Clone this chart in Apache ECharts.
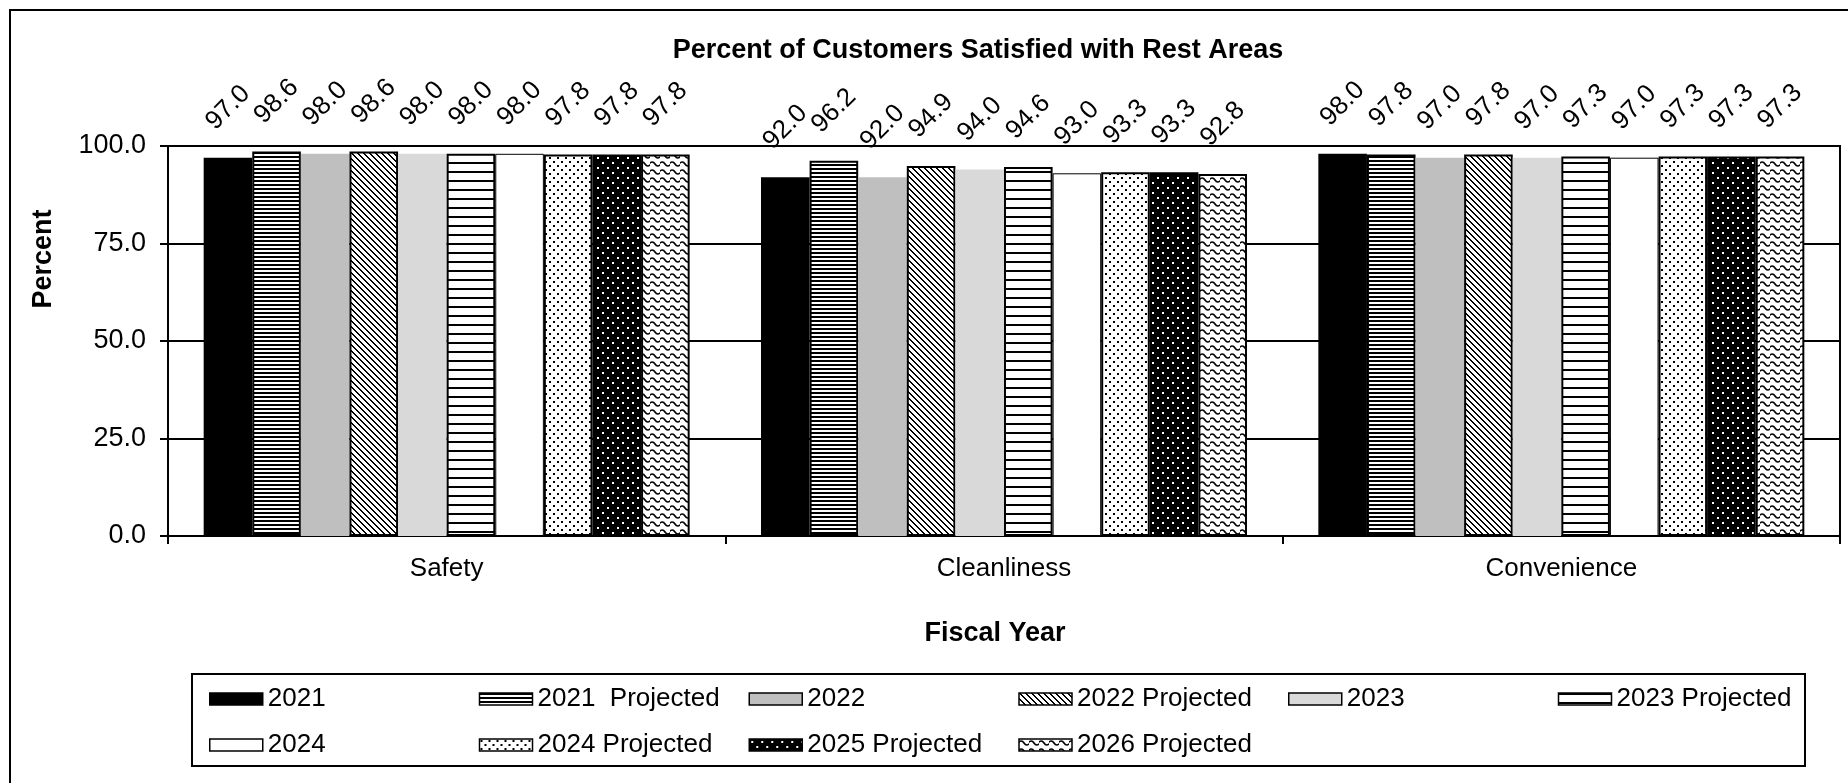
<!DOCTYPE html>
<html>
<head>
<meta charset="utf-8">
<script src="https://cdn.jsdelivr.net/npm/echarts@6/dist/echarts.min.js"></script>
<style>
html,body{margin:0;padding:0;background:#fff;}
#chart{width:1848px;height:783px;}
</style>
</head>
<body>
<div id="chart"></div>
<script>
// ---------------- data ----------------
const categories = ['Safety', 'Cleanliness', 'Convenience'];
const seriesNames = ['2021', '2021  Projected', '2022', '2022 Projected', '2023',
  '2023 Projected', '2024', '2024 Projected', '2025 Projected', '2026 Projected'];
const v2021  = [97.0, 92.0, 98.0];
const v2021P = [98.6, 96.2, 97.8];
const v2022  = [98.0, 92.0, 97.0];
const v2022P = [98.6, 94.9, 97.8];
const v2023  = [98.0, 94.0, 97.0];
const v2023P = [98.0, 94.6, 97.3];
const v2024  = [98.0, 93.0, 97.0];
const v2024P = [97.8, 93.3, 97.3];
const v2025P = [97.8, 93.3, 97.3];
const v2026P = [97.8, 92.8, 97.3];
const seriesValues = [v2021, v2021P, v2022, v2022P, v2023, v2023P, v2024, v2024P, v2025P, v2026P];
const yMin = 0, yMax = 100, yInterval = 25;
const titleText = 'Percent of Customers Satisfied with Rest Areas';
const xName = 'Fiscal Year';
const yName = 'Percent';

// ---------------- patterns ----------------
const FONT = '"Liberation Sans", Arial, sans-serif';
function pat(w, h, draw) {
  const c = document.createElement('canvas');
  c.width = w; c.height = h;
  const g = c.getContext('2d');
  draw(g, w, h);
  return { image: c, repeat: 'repeat' };
}
const pHDense = pat(4, 4, (g, w, h) => { g.fillStyle = '#fff'; g.fillRect(0, 0, w, h); g.fillStyle = '#000'; g.fillRect(0, 0, w, 2); });
const pDiag = pat(6, 6, (g, w, h) => {
  g.fillStyle = '#fff'; g.fillRect(0, 0, w, h); g.fillStyle = '#000';
  for (let i = 0; i < 6; i++) { g.fillRect(i, i, 1, 1); g.fillRect((i + 1) % 6, i, 1, 1); }
});
const pHWide = pat(8, 9, (g, w, h) => { g.fillStyle = '#fff'; g.fillRect(0, 0, w, h); g.fillStyle = '#000'; g.fillRect(0, 0, w, 2); });
const pDots = pat(8, 8, (g, w, h) => {
  g.fillStyle = '#fff'; g.fillRect(0, 0, w, h); g.fillStyle = '#000';
  g.fillRect(1, 1, 2, 2); g.fillRect(5, 5, 2, 2);
});
const pDarkDots = pat(10, 10, (g, w, h) => {
  g.fillStyle = '#000'; g.fillRect(0, 0, w, h); g.fillStyle = '#fff';
  g.fillRect(2, 2, 2, 2); g.fillRect(7, 7, 2, 2);
});
const pWave = pat(10, 8, (g, w, h) => {
  g.fillStyle = '#fff'; g.fillRect(0, 0, w, h);
  g.strokeStyle = '#000'; g.lineWidth = 1.6;
  g.beginPath(); g.moveTo(-1, 4); g.quadraticCurveTo(2.5, 0, 5, 4); g.quadraticCurveTo(7.5, 8, 11, 4); g.stroke();
});

const styles = [
  { color: '#000', borderColor: '#000', borderWidth: 0 },
  { color: pHDense, borderColor: '#000', borderWidth: 2 },
  { color: '#bfbfbf', borderColor: '#bfbfbf', borderWidth: 0 },
  { color: pDiag, borderColor: '#000', borderWidth: 2 },
  { color: '#d9d9d9', borderColor: '#d9d9d9', borderWidth: 0 },
  { color: pHWide, borderColor: '#000', borderWidth: 2 },
  { color: '#fff', borderColor: '#000', borderWidth: 1 },
  { color: pDots, borderColor: '#000', borderWidth: 2 },
  { color: pDarkDots, borderColor: '#000', borderWidth: 2 },
  { color: pWave, borderColor: '#000', borderWidth: 2 }
];

const series = seriesNames.map((name, i) => ({
  name: name,
  type: 'bar',
  data: seriesValues[i],
  barGap: '0%',
  barCategoryGap: '12.8%',
  itemStyle: styles[i],
  emphasis: { disabled: true },
  label: {
    show: true,
    position: 'top',
    distance: 50,
    rotate: 45,
    align: 'center',
    verticalAlign: 'middle',
    color: '#000',
    fontFamily: FONT,
    fontSize: 26,
    formatter: p => p.value.toFixed(1)
  }
}));

const legendCommon = {
  icon: 'rect',
  itemWidth: 53,
  itemHeight: 12,
  itemGap: 10,
  orient: 'horizontal',
  selectedMode: false,
  itemStyle: { borderColor: '#000', borderWidth: 1.5 },
  textStyle: { color: '#000', fontFamily: FONT, fontSize: 26, width: 201, lineHeight: 30 }
};

const chart = echarts.init(document.getElementById('chart'), null, { renderer: 'canvas' });
chart.setOption({
  animation: false,
  backgroundColor: '#fff',
  grid: { left: 168, right: 8, top: 146, bottom: 247, show: true, borderColor: '#000', borderWidth: 2, containLabel: false },
  xAxis: {
    type: 'category',
    data: categories,
    axisLine: { show: true, lineStyle: { color: '#000', width: 2 } },
    axisTick: { show: true, length: 8, lineStyle: { color: '#000', width: 2 } },
    axisLabel: { color: '#000', fontFamily: FONT, fontSize: 26, margin: 20 },
    splitLine: { show: false }
  },
  yAxis: {
    type: 'value',
    min: yMin, max: yMax, interval: yInterval,
    axisLine: { show: true, lineStyle: { color: '#000', width: 2 } },
    axisTick: { show: true, length: 8, lineStyle: { color: '#000', width: 2 } },
    axisLabel: { color: '#000', fontFamily: FONT, fontSize: 27, margin: 22, formatter: v => v.toFixed(1) },
    splitLine: { show: true, lineStyle: { color: '#000', width: 2 } }
  },
  legend: [
    Object.assign({}, legendCommon, { data: seriesNames.slice(0, 6), left: 204, top: 679 }),
    Object.assign({}, legendCommon, { data: seriesNames.slice(6), left: 204, top: 725 })
  ],
  graphic: [
    { type: 'rect', shape: { x: 10, y: 10, width: 1900, height: 900 }, style: { fill: 'none', stroke: '#000', lineWidth: 2 }, silent: true, z: -1 },
    { type: 'rect', shape: { x: 192, y: 674, width: 1613, height: 92 }, style: { fill: 'none', stroke: '#000', lineWidth: 2 }, silent: true },
    { type: 'text', x: 978, y: 51, style: { text: titleText, fill: '#000', font: 'bold 27px ' + FONT, textAlign: 'center', textVerticalAlign: 'middle' }, silent: true },
    { type: 'text', x: 995, y: 634, style: { text: xName, fill: '#000', font: 'bold 27px ' + FONT, textAlign: 'center', textVerticalAlign: 'middle' }, silent: true },
    { type: 'text', x: 44, y: 259, rotation: Math.PI / 2, style: { text: yName, fill: '#000', font: 'bold 27px ' + FONT, textAlign: 'center', textVerticalAlign: 'middle' }, silent: true }
  ],
  series: series
});
</script>
</body>
</html>
